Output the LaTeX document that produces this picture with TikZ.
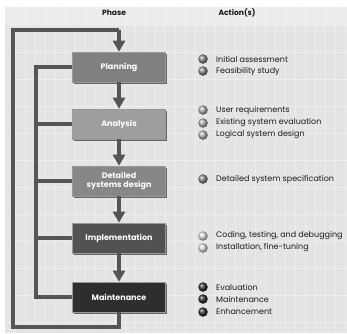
\documentclass[tikz,border=0pt]{standalone}
\usepackage{fontspec}
\setmainfont{Poppins}
\usetikzlibrary{arrows.meta,shadows,calc}
\definecolor{bg}{HTML}{E4E4E4}
\definecolor{bghead}{HTML}{ECECEC}
\definecolor{linec}{HTML}{555555}
\definecolor{txt}{HTML}{1A1A1A}
\tikzset{
  phasebox/.style={minimum width=93pt, minimum height=30pt, inner sep=1pt, align=center,
    text=white, font=\fontsize{8}{9}\selectfont\bfseries, draw=white!60!black, line width=0.6pt,
    drop shadow={shadow xshift=1.6pt, shadow yshift=-1.6pt, fill=black!65, opacity=0.9}},
  flow/.style={draw=linec, line width=4pt, -{Triangle[width=12pt,length=11pt]}},
  loop/.style={draw=linec, line width=4pt},
  item/.style={anchor=west, text=txt, inner sep=0pt, font=\fontsize{8}{9}\selectfont},
  head/.style={text=txt, font=\fontsize{7.6}{9}\selectfont\bfseries},
  bul/.style={circle, minimum size=9.5pt, inner sep=0pt, shading=ball, ball color=#1}
}
\begin{document}
\begin{tikzpicture}[x=1pt,y=-1pt]
\useasboundingbox (0,0) rectangle (347,333);
% background
\fill[bg] (5,7) rectangle (347,333);
\fill[bghead] (5,7) rectangle (347,25);
\foreach \x in {15,25,...,345} \draw[white,opacity=0.3,line width=0.6pt] (\x,7) -- (\x,333);
\foreach \y in {25,52,79,106,133,160,187,214,241,268,295,322} \draw[white,opacity=0.3,line width=0.6pt] (5,\y) -- (347,\y);
% headers
\node[head] (hphase) at (114,13) {Phase};
\node[head] (hact) at (237,13) {Action(s)};
% boxes
\node[phasebox, fill=black!50] (plan) at (119,67) {Planning};
\node[phasebox, fill=black!38] (ana) at (119,124) {Analysis};
\node[phasebox, fill=black!47] (det) at (119,181) {Detailed\\systems design};
\node[phasebox, fill=black!68] (imp) at (119,238) {Implementation};
\node[phasebox, fill=black!82] (mnt) at (119,297) {Maintenance};
% forward arrows
\draw[flow] (plan) -- (ana);
\draw[flow] (ana) -- (det);
\draw[flow] (det) -- (imp);
\draw[flow] (imp) -- (mnt);
% outer loop
\coordinate (ob) at (119,327);
\coordinate (ol) at (13,0);
\coordinate (ot) at (119,30);
\draw[loop] (mnt.south) -- (ob) -- (ob -| ol) -- (ot -| ol) -- (ot);
\draw[flow] (ot) -- (plan.north);
% inner loop
\coordinate (il) at (36,0);
\draw[loop] (plan.west) -- (plan.west -| il) -- (mnt.west -| il) -- (mnt.west);
\draw[loop] (ana.west) -- (ana.west -| il);
\draw[loop] (det.west) -- (det.west -| il);
\draw[loop] (imp.west) -- (imp.west -| il);
% actions
\node[bul=black!45] (b1) at (203,59) {};
\node[item] (a1) at (216,59) {Initial assessment};
\node[bul=black!45] (b2) at (203,71) {};
\node[item] (a2) at (216,71) {Feasibility study};
\node[bul=black!30] (b3) at (203,110) {};
\node[item] (a3) at (216,110) {User requirements};
\node[bul=black!30] (b4) at (203,123) {};
\node[item] (a4) at (216,123) {Existing system evaluation};
\node[bul=black!30] (b5) at (203,135) {};
\node[item] (a5) at (216,135) {Logical system design};
\node[bul=black!45] (b6) at (203,179) {};
\node[item] (a6) at (216,179) {Detailed system specification};
\node[bul=black!12] (b7) at (203,236) {};
\node[item] (a7) at (216,236) {Coding, testing, and debugging};
\node[bul=black!12] (b8) at (203,248) {};
\node[item] (a8) at (216,248) {Installation, fine-tuning};
\node[bul=black!80] (b9) at (203,287) {};
\node[item] (a9) at (216,287) {Evaluation};
\node[bul=black!80] (b10) at (203,299) {};
\node[item] (a10) at (216,299) {Maintenance};
\node[bul=black!80] (b11) at (203,312) {};
\node[item] (a11) at (216,312) {Enhancement};
\end{tikzpicture}
\end{document}
